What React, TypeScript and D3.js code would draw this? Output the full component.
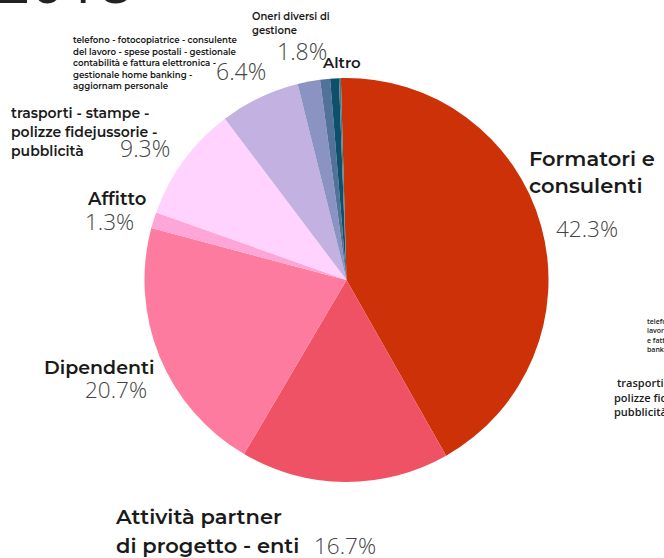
import React, { useRef, useEffect } from 'react';
import * as d3 from 'd3';

const categories = [
  'Formatori e consulenti',
  'Attività partner di progetto - enti',
  'Dipendenti',
  'Affitto',
  'trasporti - stampe - polizze fidejussorie - pubblicità',
  'telefono - fotocopiatrice - consulente del lavoro - spese postali - gestionale contabilità e fattura elettronica - gestionale home banking - aggiornam personale',
  'Oneri diversi di gestione',
  'Assicurazioni',
  'Imposte',
  'Altro',
];
const values = [42.3, 16.7, 20.7, 1.3, 9.3, 6.4, 1.8, 0.8, 0.7, 0.15];
const colors = ['#cd3108', '#ef5264', '#fe7ba0', '#ffa6d8', '#ffd3fd', '#c3b1e1', '#8a93c2', '#52729a', '#0e4f6b', '#3f7f8f'];

// label layout: name lines, pct position
const labels = [
  { i: 0, lines: ['Formatori e', 'consulenti'], x: 529, y: 166, lh: 27, size: 21, pct: [556, 237], pctSize: 22.5 },
  { i: 1, lines: ['Attività partner', 'di progetto - enti'], x: 116, y: 524, lh: 29, size: 21, pct: [314, 554], pctSize: 22.5 },
  { i: 2, lines: ['Dipendenti'], x: 44, y: 374, lh: 20, size: 19, pct: [85, 398], pctSize: 22.5 },
  { i: 3, lines: ['Affitto'], x: 88, y: 205, lh: 20, size: 18, pct: [85, 230], pctSize: 22.5 },
  { i: 4, lines: ['trasporti - stampe -', 'polizze fidejussorie -', 'pubblicità'], x: 11, y: 118, lh: 19, size: 14, pct: [120, 157], pctSize: 23 },
  { i: 5, lines: ['telefono - fotocopiatrice - consulente', 'del lavoro - spese postali - gestionale', 'contabilità e fattura elettronica -', 'gestionale home banking -', 'aggiornam personale'], x: 73, y: 43, lh: 11.6, size: 8.6, pct: [216, 80], pctSize: 23 },
  { i: 6, lines: ['Oneri diversi di', 'gestione'], x: 252, y: 20, lh: 14, size: 10, pct: [277, 60], pctSize: 23 },
  { i: 9, lines: ['Altro'], x: 323, y: 68, lh: 16, size: 15, pct: null, pctSize: 0 },
];

const App = () => {
  const svgRef = useRef<SVGSVGElement>(null);

  useEffect(() => {
    const width = 664;
    const height = 558;
    const cx = 346.5;
    const cy = 280;
    const r = 202;

    const svg = d3.select(svgRef.current);
    svg.selectAll('*').remove();
    svg.attr('width', width).attr('height', height);

    // cropped title at top
    svg.append('text')
      .attr('x', -4).attr('y', 3)
      .attr('font-family', 'Open Sans, sans-serif')
      .attr('font-size', 60)
      .attr('font-weight', 400)
      .attr('fill', '#222')
      .text('2018');

    const pie = d3.pie<number>()
      .sort(null)
      .value((d) => d)
      .startAngle(-0.028)
      .endAngle(2 * Math.PI - 0.028);

    const arc = d3.arc<d3.PieArcDatum<number>>()
      .innerRadius(0)
      .outerRadius(r);

    const g = svg.append('g').attr('transform', `translate(${cx},${cy})`);
    g.selectAll('path')
      .data(pie(values))
      .enter()
      .append('path')
      .attr('d', arc)
      .attr('fill', (d, i) => colors[i]);

    labels.forEach((l) => {
      const t = svg.append('text')
        .attr('font-family', 'Montserrat, "Open Sans", sans-serif')
        .attr('font-weight', 600)
        .attr('font-size', l.size)
        .attr('fill', '#1a1a1a');
      l.lines.forEach((line, k) => {
        t.append('tspan').attr('x', l.x).attr('y', l.y + k * l.lh).text(line);
      });
      if (l.pct) {
        svg.append('text')
          .attr('x', l.pct[0]).attr('y', l.pct[1])
          .attr('font-family', '"Open Sans", sans-serif')
          .attr('font-weight', 300)
          .attr('font-size', l.pctSize)
          .attr('fill', '#444')
          .text(d3.format('.1f')(values[l.i]) + '%');
      }
    });

    // labels of a neighbouring chart, cut off by the right edge
    const ghostSmall = ['telefono - fotocopiatrice - consulente del', 'lavoro - spese postali - gestionale contabilità', 'e fattura elettronica - gestionale home', 'banking - aggiornam personale'];
    const gs = svg.append('text')
      .attr('font-family', '"Open Sans", sans-serif')
      .attr('font-weight', 600)
      .attr('font-size', 7)
      .attr('fill', '#1a1a1a');
    ghostSmall.forEach((line, k) => gs.append('tspan').attr('x', 647).attr('y', 324 + k * 9.3).text(line));

    const ghostBig = ['trasporti - stampe -', 'polizze fidejussorie -', 'pubblicità'];
    const gb = svg.append('text')
      .attr('font-family', '"Open Sans", sans-serif')
      .attr('font-weight', 600)
      .attr('font-size', 11)
      .attr('fill', '#1a1a1a');
    ghostBig.forEach((line, k) => gb.append('tspan').attr('x', [617, 614, 614][k]).attr('y', 387 + k * 14.5).text(line));
  }, []);

  return (
    <svg ref={svgRef} style={{ position: 'absolute', left: 0, top: 0 }}></svg>
  );
};

export default App;
